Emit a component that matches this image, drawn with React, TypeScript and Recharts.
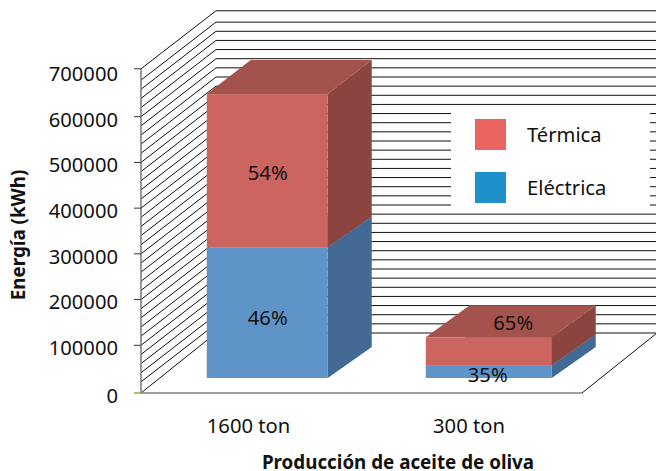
import React from "react";
import { BarChart, Bar, XAxis, YAxis, CartesianGrid, Legend, LabelList } from "recharts";

const categories = ["1600 ton", "300 ton"];
const electricValues = [286000, 28000];
const thermalValues = [335000, 61000];
const electricPct = ["46%", "35%"];
const thermalPct = ["54%", "65%"];
const yTicks = [0, 100000, 200000, 300000, 400000, 500000, 600000, 700000];
const gridValues = [
  0, 20000, 40000, 60000, 80000, 100000, 120000, 140000, 160000, 180000, 200000, 220000,
  240000, 260000, 280000, 300000, 320000, 340000, 360000, 380000, 400000, 420000, 440000,
  460000, 480000, 500000, 520000, 540000, 560000, 580000, 600000, 620000, 640000, 660000,
  680000, 700000,
];

const data = categories.map((c, i) => ({
  name: c,
  electric: electricValues[i],
  thermal: thermalValues[i],
  electricPct: electricPct[i],
  thermalPct: thermalPct[i],
}));

const FONT = "'Noto Sans', sans-serif";
const TEXT_SIZE = 20.2;
const TITLE_SIZE = 18.8;
const W = 656, H = 471;
const LEFT = 141, RIGHT = 582, TOP = 71, BOTTOM = 391;
const WALL_DX = 75, WALL_DY = 58;
const DEPTH_DX = 44, DEPTH_DY = 31;
const BAR_SHIFT_X = [16.25, 17.25];
const BAR_SHIFT_Y = -13;
const FACE_W = [121, 126];

const red = { front: "#CC6560", top: "#A4524D", side: "#8C4440", swatch: "#EA6460", topDy: [34, 32] };
const blue = { front: "#5F94C8", top: "#4A7199", side: "#426A94", swatch: "#2090CB", topDy: [31, 31] };

function Box3D(props: any, c: any) {
  const { x, y, width, height, index } = props;
  const w = FACE_W[index];
  const l = x + width / 2 + BAR_SHIFT_X[index] - w / 2;
  const t = y + BAR_SHIFT_Y;
  const r = l + w;
  const b = t + height;
  const td = c.topDy[index];
  return (
    <g>
      <polygon points={`${r},${t} ${r + DEPTH_DX},${t - td} ${r + DEPTH_DX},${b - DEPTH_DY} ${r},${b}`} fill={c.side} />
      <polygon points={`${l},${t} ${l + DEPTH_DX},${t - td} ${r + DEPTH_DX},${t - td} ${r},${t}`} fill={c.top} />
      <rect x={l} y={t} width={w} height={height} fill={c.front} />
    </g>
  );
}

const GridLine = (p: any) => {
  const isTop = Math.abs(p.y1 - TOP) < 0.5;
  const isBottom = Math.abs(p.y1 - BOTTOM) < 0.5;
  const y = isTop ? p.y1 - 2.2 : p.y1;
  const yDiag = isBottom ? p.y1 + 2 : y;
  return (
    <g key={p.key}>
      <polyline
        points={`${p.x1},${yDiag} ${p.x1 + WALL_DX},${y - WALL_DY} ${p.x2 + WALL_DX},${y - WALL_DY}`}
        fill="none"
        stroke="#111"
        strokeWidth={1}
      />
      {isBottom && (
        <>
          <line x1={p.x1} y1={y} x2={p.x1} y2={y + 2} stroke="#777" strokeWidth={1.5} />
          <line x1={p.x1} y1={y + 2} x2={p.x2} y2={y + 2} stroke="#808080" strokeWidth={1.6} />
          <line x1={p.x2} y1={y + 2} x2={p.x2 + WALL_DX} y2={y - WALL_DY} stroke="#111" strokeWidth={1} />
        </>
      )}
      {isTop && <line x1={p.x1} y1={y} x2={p.x1} y2={p.y1} stroke="#777" strokeWidth={1.5} />}
    </g>
  );
};

const YTick = (p: any) => {
  const v = p.payload.value;
  const shift = v === 0 ? 2 : v === 700000 ? -2.2 : 0;
  return (
    <g>
      <line x1={LEFT - 7} x2={LEFT} y1={p.y + shift} y2={p.y + shift} stroke={v === 0 ? "#8DB83B" : "#333"} strokeWidth={v === 0 ? 1.6 : 1} />
      <text x={LEFT - 23} y={p.y + (v === 0 ? 3.5 : 1.8)} textAnchor="end" dominantBaseline="central" fontFamily={FONT} fontSize={TEXT_SIZE} fill="#111">
        {v}
      </text>
    </g>
  );
};

const XTick = (p: any) => (
  <text x={p.x - 2.75} y={425} textAnchor="middle" dominantBaseline="central" fontFamily={FONT} fontSize={TEXT_SIZE} fill="#111">
    {p.payload.value}
  </text>
);

const pctLabel = (offsets: number[][]) => (p: any) => {
  const { x, y, width, height, value, index } = p;
  const [dx, dy] = offsets[index];
  return (
    <text
      x={x + width / 2 + BAR_SHIFT_X[index] + dx}
      y={y + BAR_SHIFT_Y + height / 2 + dy}
      textAnchor="middle"
      dominantBaseline="central"
      fontFamily={FONT}
      fontSize={TEXT_SIZE}
      fill="#111"
    >
      {value}
    </text>
  );
};

const LegendBox = (p: any) => {
  const items = [...(p.payload || [])].reverse();
  return (
    <div style={{ position: "relative", width: 199, height: 104, background: "#fff", fontFamily: FONT, fontSize: TEXT_SIZE, color: "#111" }}>
      {items.map((it: any, i: number) => (
        <React.Fragment key={it.value}>
          <div style={{ position: "absolute", left: 24, top: 11 + i * 53, width: 31, height: 31, background: it.color }} />
          <div style={{ position: "absolute", left: 76, top: 11 + i * 53, height: 31, lineHeight: "31px", whiteSpace: "nowrap" }}>{it.value}</div>
        </React.Fragment>
      ))}
    </div>
  );
};

export default function App() {
  return (
    <div style={{ position: "absolute", left: 0, top: 0, width: W, height: H, background: "#fff", overflow: "hidden" }}>
      <BarChart width={W} height={H} data={data} margin={{ top: TOP, bottom: 0, left: 0, right: W - RIGHT }} barSize={124}>
        <CartesianGrid vertical={false} horizontal={GridLine as any} horizontalValues={gridValues} />
        <XAxis
          dataKey="name"
          height={H - BOTTOM}
          axisLine={false}
          tickLine={false}
          interval={0}
          tick={XTick as any}
          label={{ value: "Producción de aceite de oliva", position: "insideBottom", dx: 36.5, offset: 2, style: { fontFamily: FONT, fontWeight: 700, fontSize: TITLE_SIZE, fill: "#111" } }}
        />
        <YAxis
          width={LEFT}
          domain={[0, 700000]}
          ticks={yTicks}
          interval={0}
          axisLine={{ stroke: "#777", strokeWidth: 1.5 }}
          tickLine={false}
          tick={YTick as any}
          label={{ value: "Energía (kWh)", angle: -90, position: "insideLeft", dx: 13, dy: 4, style: { fontFamily: FONT, fontWeight: 700, fontSize: TITLE_SIZE, fill: "#111", textAnchor: "middle" } }}
        />
        <Legend
          layout="horizontal"
          verticalAlign="middle"
          align="center"
          content={LegendBox as any}
          wrapperStyle={{ left: 451, top: 108, width: 199, height: 104 }}
        />
        <Bar dataKey="electric" name="Eléctrica" stackId="a" fill={blue.swatch} isAnimationActive={false} shape={(p: any) => Box3D(p, blue)}>
          <LabelList dataKey="electricPct" content={pctLabel([[0.5, 4], [-1, 2.5]]) as any} />
        </Bar>
        <Bar dataKey="thermal" name="Térmica" stackId="a" fill={red.swatch} isAnimationActive={false} shape={(p: any) => Box3D(p, red)}>
          <LabelList dataKey="thermalPct" content={pctLabel([[0.5, 1], [24.5, -29.5]]) as any} />
        </Bar>
      </BarChart>
    </div>
  );
}
